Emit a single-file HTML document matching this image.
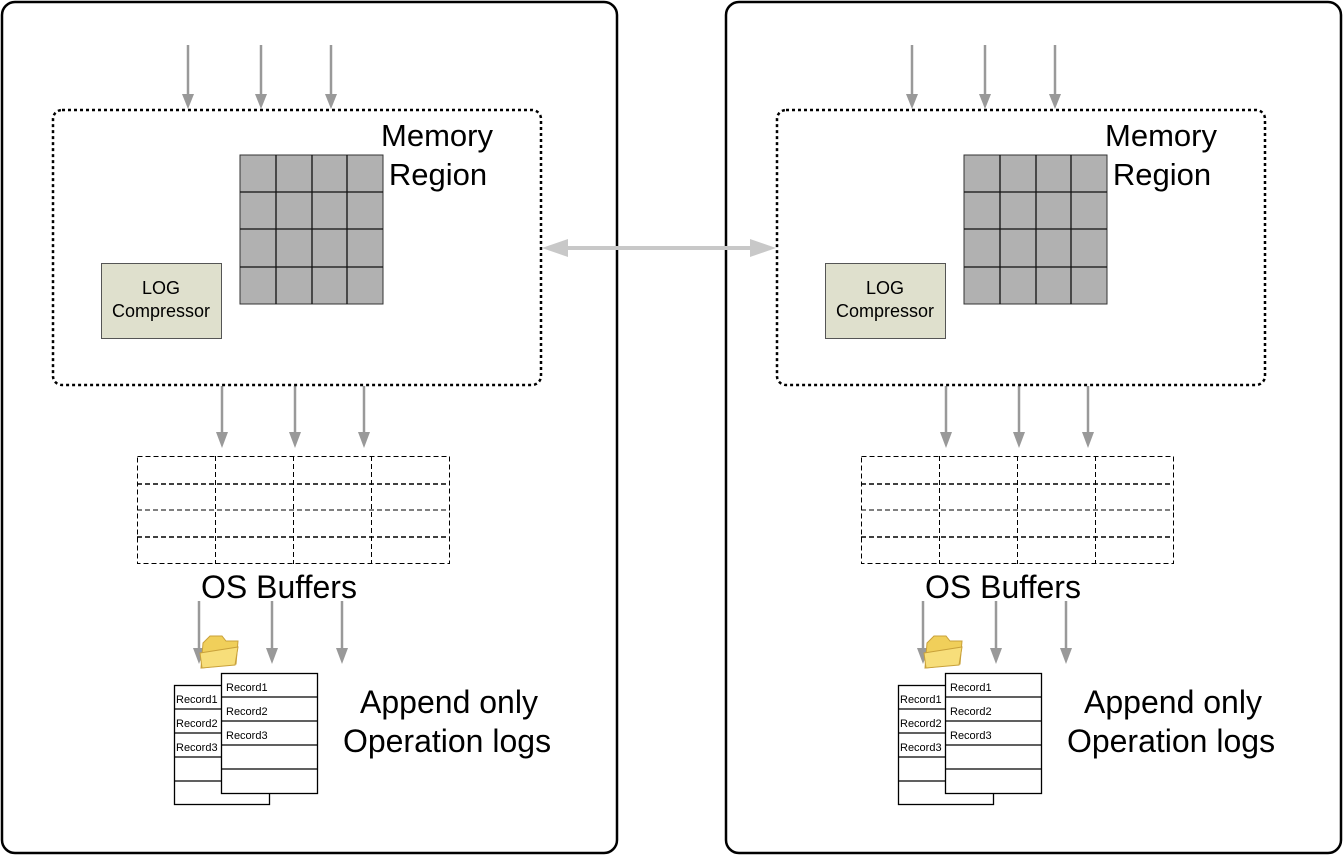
<!DOCTYPE html>
<html><head><meta charset="utf-8"><style>
html,body{margin:0;padding:0;background:#fff;}
svg{display:block;}
text{font-family:"Liberation Sans",Arial,sans-serif;fill:#000;}
</style></head><body>
<svg width="1343" height="856" viewBox="0 0 1343 856" xmlns="http://www.w3.org/2000/svg">
<defs>
<g id="panel">
<rect x="2" y="2" width="615" height="851" rx="13" fill="#fff" stroke="#000" stroke-width="2.5"/>
<g stroke="#999" stroke-width="2.5" fill="none">
<line x1="188" y1="45" x2="188" y2="96"/>
<line x1="261" y1="45" x2="261" y2="96"/>
<line x1="331" y1="45" x2="331" y2="96"/>
<line x1="222" y1="386" x2="222" y2="434"/>
<line x1="295" y1="386" x2="295" y2="434"/>
<line x1="364" y1="386" x2="364" y2="434"/>
<line x1="199" y1="601" x2="199" y2="650"/>
<line x1="272" y1="601" x2="272" y2="650"/>
<line x1="342" y1="601" x2="342" y2="650"/>
</g>
<g fill="#999">
<path d="M182,94 L194,94 L188,109 Z"/>
<path d="M255,94 L267,94 L261,109 Z"/>
<path d="M325,94 L337,94 L331,109 Z"/>
<path d="M216,432 L228,432 L222,448 Z"/>
<path d="M289,432 L301,432 L295,448 Z"/>
<path d="M358,432 L370,432 L364,448 Z"/>
<path d="M193,648 L205,648 L199,664 Z"/>
<path d="M266,648 L278,648 L272,664 Z"/>
<path d="M336,648 L348,648 L342,664 Z"/>
</g>
<rect x="53" y="110" width="488" height="275" rx="9" fill="none" stroke="#000" stroke-width="2.5" stroke-dasharray="3 3"/>
<text x="437" y="146" font-size="31" text-anchor="middle">Memory</text>
<text x="438" y="185" font-size="31" text-anchor="middle">Region</text>
<rect x="240" y="155" width="143" height="149" fill="#b1b1b1" stroke="#333" stroke-width="1"/>
<g stroke="#111" stroke-width="1.3">
<line x1="276" y1="155" x2="276" y2="304"/><line x1="312" y1="155" x2="312" y2="304"/><line x1="347" y1="155" x2="347" y2="304"/>
<line x1="240" y1="192" x2="383" y2="192"/><line x1="240" y1="229" x2="383" y2="229"/><line x1="240" y1="267" x2="383" y2="267"/>
</g>
<rect x="101.5" y="263.5" width="120" height="75" fill="#dfe0cd" stroke="#555" stroke-width="1"/>
<text x="161" y="294" font-size="18" text-anchor="middle">LOG</text>
<text x="161" y="317" font-size="18" text-anchor="middle">Compressor</text>
<g stroke="#000" stroke-width="1" fill="none" stroke-dasharray="5 3">
<rect x="137.5" y="456.5" width="312" height="107"/>
<line x1="215.5" y1="456" x2="215.5" y2="564"/><line x1="293.5" y1="456" x2="293.5" y2="564"/><line x1="371.5" y1="456" x2="371.5" y2="564"/>
<line x1="137" y1="484" x2="450" y2="484" stroke-width="1.5"/><line x1="137" y1="510" x2="450" y2="510"/><line x1="137" y1="537" x2="450" y2="537" stroke-width="1.5"/>
</g>
<text x="279" y="598" font-size="32" text-anchor="middle">OS Buffers</text>
<path d="M203,643 L210,636 L222,636 L226,641 L238,641 L236,664 L201,668 Z" fill="#f0cf5a" stroke="#c9a13a" stroke-width="1"/>
<path d="M200,653 L238,647 L235,665 L202,668 Z" fill="#f7de7a" stroke="#c9a13a" stroke-width="1"/>
<g stroke="#000" stroke-width="1.3" fill="#fff">
<rect x="174.5" y="685.5" width="95" height="119"/>
<line x1="174" y1="709" x2="270" y2="709"/><line x1="174" y1="733" x2="270" y2="733"/><line x1="174" y1="757" x2="270" y2="757"/><line x1="174" y1="781" x2="270" y2="781"/>
</g>
<text x="176" y="703" font-size="11">Record1</text>
<text x="176" y="727" font-size="11">Record2</text>
<text x="176" y="751" font-size="11">Record3</text>
<g stroke="#000" stroke-width="1.3" fill="#fff">
<rect x="221.5" y="673.5" width="96" height="120"/>
<line x1="221" y1="697" x2="318" y2="697"/><line x1="221" y1="721" x2="318" y2="721"/><line x1="221" y1="745" x2="318" y2="745"/><line x1="221" y1="769" x2="318" y2="769"/>
</g>
<text x="226" y="691" font-size="11">Record1</text>
<text x="226" y="715" font-size="11">Record2</text>
<text x="226" y="739" font-size="11">Record3</text>
<text x="449" y="713" font-size="32" text-anchor="middle">Append only</text>
<text x="447" y="752" font-size="32" text-anchor="middle">Operation logs</text>
</g>
</defs>
<rect width="1343" height="856" fill="#fff"/>
<use href="#panel"/>
<use href="#panel" transform="translate(724,0)"/>
<line x1="560" y1="248" x2="758" y2="248" stroke="#c8c8c8" stroke-width="4"/>
<path d="M542,248 L568,239 L568,257 Z" fill="#c8c8c8"/>
<path d="M776,248 L750,239 L750,257 Z" fill="#c8c8c8"/>
</svg>
</body></html>
